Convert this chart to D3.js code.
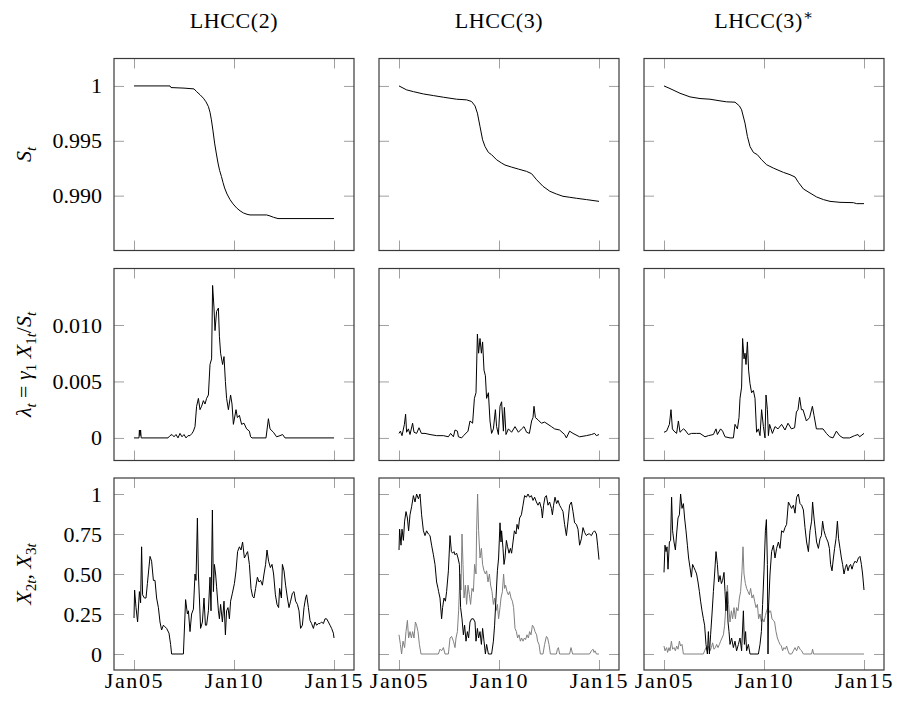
<!DOCTYPE html>
<html>
<head>
<meta charset="utf-8">
<script src="https://cdn.jsdelivr.net/npm/d3@7"></script>
<style>
  body { margin: 0; background: #fff; }
  svg { display: block; }
</style>
</head>
<body>
<div id="chart"></div>
<script>
// column titles and axis ticks
const colTitles = ["LHCC(2)", "LHCC(3)", "LHCC(3)"];
const xTickValues = [2005, 2010, 2015];
const xTickLabels = ["Jan05", "Jan10", "Jan15"];
const sTicks = [1, 0.995, 0.990];
const sTickLabels = ["1", "0.995", "0.990"];
const lamTicks = [0, 0.005, 0.010];
const lamTickLabels = ["0", "0.005", "0.010"];
const xTicksRow3 = [0, 0.25, 0.5, 0.75, 1];
const xTickLabelsRow3 = ["0", "0.25", "0.50", "0.75", "1"];

// survival S_t, [year, value]
const sLhcc2 = [[2005.0,1.0],[2006.8,1.0],[2006.85,0.99985],[2007.5,0.9998],[2008.0,0.99973],[2008.13,0.99948],[2008.3,0.9992],[2008.47,0.99888],[2008.6,0.99855],[2008.72,0.99812],[2008.8,0.9976],[2008.87,0.99691],[2008.95,0.9959],[2009.03,0.99479],[2009.12,0.9938],[2009.2,0.99297],[2009.28,0.9923],[2009.37,0.99176],[2009.45,0.9912],[2009.53,0.9907],[2009.65,0.99015],[2009.8,0.98964],[2009.95,0.98925],[2010.13,0.98888],[2010.3,0.98862],[2010.47,0.98842],[2010.65,0.9883],[2010.8,0.98824],[2011.63,0.98824],[2011.8,0.98815],[2011.97,0.98803],[2012.2,0.98791],[2015.0,0.98791]];
const sLhcc3 = [[2005.0,1.0],[2005.38,0.99964],[2005.72,0.99948],[2006.22,0.99927],[2006.72,0.99912],[2007.22,0.99897],[2007.88,0.99879],[2008.38,0.99873],[2008.63,0.99858],[2008.8,0.99818],[2008.92,0.99752],[2009.05,0.9963],[2009.18,0.99509],[2009.3,0.99448],[2009.47,0.99394],[2009.63,0.99373],[2009.88,0.99327],[2010.13,0.99297],[2010.3,0.99279],[2010.63,0.9926],[2010.97,0.99242],[2011.38,0.99221],[2011.63,0.992],[2011.88,0.99145],[2012.2,0.99085],[2012.54,0.9904],[2012.87,0.99015],[2013.2,0.98994],[2013.54,0.98985],[2013.87,0.98976],[2014.37,0.98964],[2015.0,0.98948]];
const sLhcc3s = [[2005.0,1.0],[2005.3,0.99976],[2005.8,0.99933],[2006.3,0.999],[2006.8,0.99885],[2007.3,0.99879],[2007.8,0.99864],[2008.13,0.99855],[2008.55,0.99852],[2008.77,0.99818],[2008.88,0.99782],[2009.05,0.99661],[2009.17,0.9954],[2009.3,0.99448],[2009.47,0.99394],[2009.67,0.99373],[2009.88,0.99327],[2010.13,0.99282],[2010.47,0.99251],[2010.97,0.99212],[2011.3,0.99191],[2011.55,0.9917],[2011.72,0.99121],[2011.97,0.99061],[2012.3,0.99024],[2012.63,0.98988],[2012.97,0.98964],[2013.3,0.98948],[2013.8,0.98939],[2014.47,0.98936],[2014.63,0.98927],[2015.0,0.98927]];

// default intensity lambda_t
const lamLhcc2 = [[2005.0,0],[2005.25,0],[2005.27,0.0007],[2005.3,0.0002],[2005.33,0.0007],[2005.36,0],[2006.7,0],[2006.8,0.0002],[2006.9,0.0003],[2007.0,0.0001],[2007.1,0.0003],[2007.2,0],[2007.3,0.0004],[2007.4,0.0001],[2007.5,0.0003],[2007.6,0],[2007.7,0.0002],[2007.8,0.0002],[2007.9,0.0004],[2007.97,0.0006],[2008.05,0.001],[2008.13,0.0028],[2008.22,0.0035],[2008.3,0.0025],[2008.38,0.0028],[2008.47,0.0033],[2008.55,0.003],[2008.63,0.0035],[2008.72,0.0038],[2008.8,0.0065],[2008.88,0.007],[2008.93,0.0135],[2009.0,0.0115],[2009.05,0.0095],[2009.13,0.0112],[2009.22,0.0115],[2009.27,0.009],[2009.33,0.0075],[2009.43,0.0065],[2009.5,0.0072],[2009.57,0.005],[2009.63,0.0035],[2009.72,0.0025],[2009.83,0.0038],[2009.9,0.003],[2009.97,0.0012],[2010.1,0.0025],[2010.17,0.0018],[2010.27,0.002],[2010.38,0.0012],[2010.5,0.0013],[2010.63,0.0008],[2010.77,0.0006],[2010.83,0.0001],[2010.9,0],[2011.6,0],[2011.72,0.0017],[2011.8,0.0008],[2011.97,0.0005],[2012.13,0.0001],[2012.3,0.0002],[2012.43,0.0003],[2012.55,0],[2015.0,0]];
const lamLhcc3 = [[2005.0,0.0004],[2005.07,0.0006],[2005.15,0.0002],[2005.27,0.0012],[2005.33,0.0021],[2005.38,0.0005],[2005.47,0.0008],[2005.55,0.0003],[2005.68,0.0013],[2005.75,0.0005],[2005.88,0.0004],[2006.0,0.0009],[2006.12,0.0004],[2006.3,0.0004],[2006.55,0.0003],[2006.88,0.0002],[2007.22,0.0002],[2007.47,0.0001],[2007.58,0.0004],[2007.72,0.0001],[2007.8,0.0007],[2007.92,0.0006],[2007.97,0.0001],[2008.13,0],[2008.23,0.0002],[2008.45,0.0006],[2008.55,0.0015],[2008.68,0.0013],[2008.77,0.0035],[2008.85,0.004],[2008.92,0.0092],[2008.98,0.0075],[2009.05,0.0088],[2009.12,0.0075],[2009.18,0.0085],[2009.25,0.006],[2009.32,0.0055],[2009.38,0.0035],[2009.47,0.004],[2009.55,0.0015],[2009.63,0.0004],[2009.72,0.0008],[2009.82,0.0025],[2009.88,0.001],[2009.97,0.0003],[2010.05,0.0028],[2010.13,0.0032],[2010.22,0.0006],[2010.27,0.0027],[2010.35,0.0003],[2010.47,0.0008],[2010.63,0.0005],[2010.8,0.001],[2010.97,0.0005],[2011.13,0.0008],[2011.25,0.001],[2011.38,0.0005],[2011.52,0.0004],[2011.63,0.0015],[2011.7,0.0018],[2011.75,0.0028],[2011.82,0.0018],[2011.95,0.0016],[2012.12,0.0013],[2012.28,0.0014],[2012.45,0.0012],[2012.62,0.001],[2012.78,0.0008],[2013.03,0.0007],[2013.28,0.0003],[2013.37,0],[2013.53,0.0006],[2013.7,0.0004],[2014.03,0.0001],[2014.37,0.0002],[2014.62,0.0003],[2014.78,0.0004],[2014.87,0.0002],[2015.0,0.0003]];
const lamLhcc3s = [[2005.0,0.0005],[2005.13,0.0006],[2005.27,0.0012],[2005.35,0.0025],[2005.42,0.0008],[2005.5,0.0006],[2005.63,0.0004],[2005.72,0.0015],[2005.8,0.0005],[2005.97,0.0008],[2006.05,0.0007],[2006.22,0.0003],[2006.38,0.0004],[2006.63,0.0004],[2006.8,0.0004],[2007.05,0.0001],[2007.22,0.0002],[2007.47,0.0003],[2007.6,0.0008],[2007.67,0.0003],[2007.83,0.0008],[2007.93,0.0006],[2008.05,0.0001],[2008.3,0],[2008.47,0],[2008.55,0.0012],[2008.67,0.0008],[2008.75,0.0018],[2008.8,0.0035],[2008.88,0.0045],[2008.93,0.0088],[2009.0,0.007],[2009.05,0.0075],[2009.1,0.0065],[2009.17,0.0085],[2009.23,0.006],[2009.3,0.0048],[2009.38,0.004],[2009.47,0.0042],[2009.55,0.0035],[2009.63,0.0005],[2009.72,0.0008],[2009.8,0.0002],[2009.88,0.0025],[2009.97,0.001],[2010.05,0],[2010.1,0.0038],[2010.17,0.0025],[2010.22,0.0002],[2010.28,0.0012],[2010.42,0.0004],[2010.55,0.001],[2010.7,0.0008],[2010.88,0.0012],[2011.05,0.0007],[2011.2,0.0013],[2011.37,0.0008],[2011.53,0.0009],[2011.62,0.0023],[2011.7,0.0025],[2011.78,0.0036],[2011.87,0.0025],[2011.95,0.0025],[2012.12,0.0015],[2012.28,0.0018],[2012.42,0.0028],[2012.5,0.002],[2012.62,0.0008],[2012.78,0.0008],[2012.95,0.0008],[2013.12,0.0004],[2013.28,0.0001],[2013.45,0],[2013.62,0.0006],[2013.78,0.0002],[2013.95,0],[2014.28,0],[2014.53,0.0002],[2014.7,0.0003],[2014.78,0.0001],[2015.0,0.0004]];

// factors X_2t (black) and X_3t (gray)
const x2Lhcc2 = [[2005.0,0.225],[2005.03,0.40],[2005.1,0.29],[2005.18,0.20],[2005.27,0.39],[2005.33,0.32],[2005.38,0.67],[2005.43,0.37],[2005.52,0.35],[2005.6,0.35],[2005.67,0.44],[2005.8,0.61],[2005.88,0.58],[2005.97,0.46],[2006.05,0.46],[2006.13,0.35],[2006.22,0.29],[2006.3,0.20],[2006.38,0.15],[2006.47,0.18],[2006.55,0.17],[2006.63,0.16],[2006.75,0.13],[2006.83,0.06],[2006.88,0],[2007.47,0],[2007.58,0.34],[2007.67,0.25],[2007.72,0.27],[2007.8,0.14],[2007.88,0.25],[2007.97,0.28],[2008.05,0.5],[2008.1,0.46],[2008.17,0.85],[2008.22,0.5],[2008.27,0.35],[2008.33,0.16],[2008.42,0.2],[2008.5,0.35],[2008.57,0.18],[2008.63,0.18],[2008.72,0.27],[2008.8,0.48],[2008.85,0.27],[2008.92,0.9],[2008.97,0.39],[2009.02,0.56],[2009.08,0.5],[2009.13,0.42],[2009.22,0.27],[2009.27,0.22],[2009.33,0.31],[2009.42,0.2],[2009.5,0.33],[2009.57,0.12],[2009.63,0.27],[2009.7,0.29],[2009.77,0.22],[2009.83,0.33],[2009.92,0.38],[2010.02,0.44],[2010.1,0.52],[2010.18,0.64],[2010.27,0.67],[2010.35,0.65],[2010.43,0.70],[2010.52,0.60],[2010.6,0.62],[2010.68,0.64],[2010.77,0.56],[2010.85,0.41],[2010.93,0.36],[2011.0,0.35],[2011.08,0.41],[2011.17,0.48],[2011.25,0.45],[2011.33,0.46],[2011.42,0.43],[2011.5,0.5],[2011.58,0.56],[2011.65,0.65],[2011.73,0.58],[2011.82,0.54],[2011.9,0.56],[2011.98,0.5],[2012.07,0.37],[2012.15,0.31],[2012.23,0.29],[2012.28,0.41],[2012.37,0.35],[2012.42,0.56],[2012.5,0.52],[2012.58,0.43],[2012.67,0.35],[2012.75,0.29],[2012.83,0.33],[2012.92,0.38],[2013.0,0.39],[2013.08,0.33],[2013.17,0.31],[2013.25,0.27],[2013.33,0.16],[2013.42,0.18],[2013.5,0.29],[2013.58,0.35],[2013.63,0.37],[2013.72,0.29],[2013.8,0.21],[2013.88,0.19],[2013.97,0.16],[2014.05,0.2],[2014.13,0.18],[2014.22,0.19],[2014.3,0.19],[2014.38,0.2],[2014.47,0.19],[2014.55,0.22],[2014.63,0.22],[2014.72,0.2],[2014.8,0.18],[2014.88,0.16],[2014.97,0.13],[2015.0,0.10]];
const x2Lhcc3 = [[2005.0,0.65],[2005.03,0.78],[2005.1,0.68],[2005.15,0.78],[2005.22,0.71],[2005.28,0.83],[2005.35,0.89],[2005.42,0.85],[2005.48,0.77],[2005.55,0.87],[2005.63,0.92],[2005.72,0.99],[2005.8,0.95],[2005.88,1.0],[2005.97,0.97],[2006.05,1.0],[2006.13,0.87],[2006.22,0.77],[2006.3,0.74],[2006.38,0.77],[2006.47,0.75],[2006.55,0.74],[2006.63,0.68],[2006.72,0.62],[2006.8,0.56],[2006.88,0.45],[2006.95,0.41],[2006.98,0.39],[2007.05,0.35],[2007.13,0.22],[2007.18,0.29],[2007.25,0.35],[2007.32,0.33],[2007.38,0.39],[2007.47,0.52],[2007.55,0.74],[2007.62,0.64],[2007.68,0.63],[2007.75,0.64],[2007.8,0.62],[2007.88,0.63],[2007.95,0.60],[2008.02,0.56],[2008.08,0.29],[2008.15,0.22],[2008.22,0.12],[2008.28,0.18],[2008.35,0.08],[2008.42,0.14],[2008.48,0.10],[2008.55,0.2],[2008.63,0.22],[2008.72,0.22],[2008.8,0.2],[2008.85,0.08],[2008.92,0.16],[2008.98,0.1],[2009.05,0.14],[2009.12,0.06],[2009.18,0.16],[2009.25,0.08],[2009.32,0],[2009.38,0.06],[2009.47,0],[2009.63,0],[2009.72,0.08],[2009.78,0.18],[2009.85,0.35],[2009.92,0.52],[2009.98,0.6],[2010.05,0.82],[2010.1,0.70],[2010.13,0.77],[2010.2,0.66],[2010.25,0.56],[2010.3,0.6],[2010.37,0.71],[2010.43,0.67],[2010.5,0.63],[2010.57,0.66],[2010.63,0.63],[2010.7,0.70],[2010.77,0.77],[2010.85,0.75],[2010.9,0.81],[2010.97,0.78],[2011.03,0.85],[2011.12,0.87],[2011.2,0.93],[2011.28,0.99],[2011.37,0.98],[2011.45,1.0],[2011.53,0.98],[2011.62,0.99],[2011.7,0.96],[2011.78,0.98],[2011.87,0.95],[2011.95,0.93],[2012.03,0.95],[2012.12,0.91],[2012.17,0.85],[2012.23,0.93],[2012.3,0.98],[2012.37,0.99],[2012.45,0.93],[2012.53,0.95],[2012.62,0.91],[2012.67,0.87],[2012.73,0.93],[2012.8,0.98],[2012.88,0.94],[2012.95,0.96],[2013.03,0.93],[2013.12,0.91],[2013.2,0.89],[2013.28,0.81],[2013.37,0.74],[2013.45,0.83],[2013.53,0.93],[2013.62,0.95],[2013.7,0.89],[2013.78,0.82],[2013.87,0.81],[2013.95,0.78],[2014.03,0.68],[2014.12,0.72],[2014.2,0.79],[2014.28,0.76],[2014.37,0.74],[2014.45,0.75],[2014.53,0.75],[2014.62,0.74],[2014.7,0.76],[2014.78,0.77],[2014.87,0.75],[2014.93,0.68],[2015.0,0.59]];
const x3Lhcc3 = [[2005.0,0.12],[2005.07,0.06],[2005.13,0],[2005.2,0.08],[2005.28,0.04],[2005.35,0.14],[2005.42,0.21],[2005.48,0.1],[2005.55,0.14],[2005.62,0.1],[2005.68,0.14],[2005.75,0.1],[2005.82,0.2],[2005.88,0.18],[2005.95,0.14],[2006.02,0.06],[2006.1,0],[2006.97,0],[2007.05,0.03],[2007.13,0.02],[2007.22,0.04],[2007.3,0],[2007.47,0],[2007.55,0.1],[2007.63,0.11],[2007.72,0.08],[2007.8,0.04],[2007.85,0.1],[2007.92,0.14],[2007.98,0.27],[2008.05,0.5],[2008.1,0.4],[2008.15,0.75],[2008.2,0.56],[2008.25,0.35],[2008.32,0.43],[2008.38,0.31],[2008.45,0.43],[2008.52,0.37],[2008.58,0.31],[2008.65,0.41],[2008.72,0.39],[2008.78,0.56],[2008.85,0.5],[2008.88,0.77],[2008.93,1.0],[2008.98,0.77],[2009.05,0.6],[2009.12,0.66],[2009.18,0.56],[2009.25,0.52],[2009.32,0.5],[2009.38,0.52],[2009.45,0.45],[2009.52,0.5],[2009.58,0.43],[2009.65,0.39],[2009.72,0.31],[2009.78,0.35],[2009.85,0.27],[2009.92,0.31],[2009.98,0.22],[2010.05,0.29],[2010.1,0.35],[2010.17,0.39],[2010.23,0.5],[2010.28,0.41],[2010.33,0.43],[2010.4,0.39],[2010.47,0.37],[2010.53,0.39],[2010.6,0.35],[2010.67,0.33],[2010.73,0.29],[2010.8,0.16],[2010.87,0.14],[2010.93,0.1],[2011.0,0.12],[2011.07,0.08],[2011.13,0.1],[2011.2,0.08],[2011.27,0.1],[2011.33,0.09],[2011.4,0.12],[2011.47,0.1],[2011.53,0.14],[2011.6,0.12],[2011.67,0.18],[2011.73,0.17],[2011.8,0.14],[2011.88,0.12],[2011.93,0.08],[2012.0,0.06],[2012.07,0],[2012.2,0],[2012.28,0.06],[2012.37,0.11],[2012.43,0.1],[2012.5,0.06],[2012.57,0],[2012.87,0],[2012.92,0.03],[2012.97,0.04],[2013.03,0],[2013.53,0],[2013.6,0.04],[2013.68,0],[2014.53,0],[2014.62,0.02],[2014.7,0.03],[2014.75,0.01],[2014.8,0.02],[2014.87,0],[2015.0,0]];
const x2Lhcc3s = [[2005.0,0.51],[2005.05,0.68],[2005.1,0.64],[2005.15,0.67],[2005.2,0.53],[2005.27,0.70],[2005.33,0.71],[2005.38,0.98],[2005.43,0.77],[2005.5,0.70],[2005.57,0.65],[2005.63,0.75],[2005.7,0.85],[2005.77,0.87],[2005.83,1.0],[2005.9,0.91],[2005.97,0.94],[2006.03,0.85],[2006.1,0.77],[2006.17,0.68],[2006.23,0.6],[2006.3,0.54],[2006.37,0.48],[2006.43,0.56],[2006.5,0.54],[2006.57,0.52],[2006.63,0.5],[2006.7,0.45],[2006.77,0.39],[2006.83,0.33],[2006.9,0.27],[2006.97,0.22],[2007.03,0.18],[2007.1,0.06],[2007.17,0],[2007.22,0.14],[2007.27,0],[2007.33,0.12],[2007.4,0.25],[2007.47,0.39],[2007.53,0.5],[2007.6,0.64],[2007.67,0.56],[2007.73,0.45],[2007.8,0.49],[2007.87,0.44],[2007.93,0.46],[2008.0,0.51],[2008.05,0.39],[2008.1,0.27],[2008.15,0.39],[2008.2,0.2],[2008.25,0.14],[2008.3,0.06],[2008.38,0.1],[2008.47,0.04],[2008.55,0.08],[2008.63,0.02],[2008.72,0.06],[2008.8,0.1],[2008.88,0.02],[2008.97,0.27],[2009.02,0.06],[2009.08,0.14],[2009.13,0.02],[2009.22,0.06],[2009.3,0],[2009.72,0],[2009.8,0.06],[2009.87,0.14],[2009.93,0.31],[2010.0,0.52],[2010.07,0.77],[2010.12,0.84],[2010.17,0.56],[2010.2,0],[2010.23,0.3],[2010.3,0.5],[2010.38,0.64],[2010.47,0.68],[2010.55,0.6],[2010.63,0.66],[2010.72,0.70],[2010.8,0.66],[2010.88,0.77],[2010.97,0.76],[2011.05,0.79],[2011.13,0.81],[2011.22,0.95],[2011.3,0.93],[2011.38,0.91],[2011.47,0.93],[2011.55,0.88],[2011.63,0.98],[2011.72,1.0],[2011.8,0.94],[2011.88,0.93],[2011.97,0.9],[2012.05,0.79],[2012.13,0.70],[2012.22,0.64],[2012.3,0.77],[2012.38,0.83],[2012.43,0.95],[2012.5,0.85],[2012.57,0.77],[2012.63,0.70],[2012.72,0.66],[2012.8,0.72],[2012.87,0.74],[2012.93,0.83],[2013.0,0.77],[2013.07,0.74],[2013.13,0.72],[2013.2,0.70],[2013.27,0.66],[2013.33,0.56],[2013.4,0.52],[2013.47,0.6],[2013.53,0.66],[2013.6,0.72],[2013.67,0.83],[2013.73,0.72],[2013.8,0.66],[2013.87,0.6],[2013.93,0.56],[2014.0,0.5],[2014.07,0.54],[2014.13,0.56],[2014.2,0.52],[2014.27,0.55],[2014.33,0.56],[2014.4,0.53],[2014.47,0.56],[2014.55,0.58],[2014.63,0.57],[2014.72,0.6],[2014.8,0.61],[2014.87,0.56],[2014.93,0.5],[2015.0,0.40]];
const x3Lhcc3s = [[2005.0,0.05],[2005.05,0.02],[2005.13,0.04],[2005.18,0.01],[2005.25,0.04],[2005.3,0.02],[2005.37,0.08],[2005.43,0.03],[2005.5,0.04],[2005.57,0.02],[2005.63,0.05],[2005.7,0.03],[2005.77,0.08],[2005.83,0.05],[2005.9,0.06],[2005.97,0],[2006.97,0],[2007.03,0.02],[2007.1,0.04],[2007.17,0.02],[2007.23,0.05],[2007.3,0.02],[2007.37,0.04],[2007.43,0.07],[2007.5,0.03],[2007.57,0.04],[2007.63,0.06],[2007.7,0.04],[2007.77,0.06],[2007.83,0.08],[2007.9,0.1],[2007.97,0.12],[2008.03,0.18],[2008.1,0.31],[2008.17,0.43],[2008.23,0.31],[2008.3,0.2],[2008.37,0.27],[2008.43,0.22],[2008.5,0.29],[2008.57,0.22],[2008.63,0.29],[2008.7,0.27],[2008.77,0.35],[2008.83,0.39],[2008.9,0.52],[2008.95,0.67],[2009.0,0.5],[2009.07,0.44],[2009.13,0.41],[2009.2,0.39],[2009.27,0.37],[2009.33,0.41],[2009.4,0.35],[2009.47,0.37],[2009.53,0.33],[2009.6,0.29],[2009.67,0.31],[2009.73,0.22],[2009.8,0.25],[2009.87,0.2],[2009.93,0.22],[2010.0,0.2],[2010.07,0.24],[2010.13,0.27],[2010.2,0.29],[2010.27,0.26],[2010.33,0.27],[2010.4,0.22],[2010.47,0.21],[2010.53,0.2],[2010.6,0.14],[2010.67,0.1],[2010.73,0.08],[2010.8,0.06],[2010.87,0.05],[2010.93,0.02],[2011.0,0.04],[2011.07,0.03],[2011.13,0.05],[2011.2,0.02],[2011.27,0],[2011.38,0],[2011.47,0.02],[2011.55,0.04],[2011.63,0.02],[2011.72,0.05],[2011.8,0.03],[2011.88,0.02],[2011.97,0],[2012.38,0],[2012.43,0.03],[2012.48,0],[2015.0,0]];

// panel grid: [row][col] -> list of {data, color}
const panels = [
  [[{ data: sLhcc2, color: "#000" }], [{ data: sLhcc3, color: "#000" }], [{ data: sLhcc3s, color: "#000" }]],
  [[{ data: lamLhcc2, color: "#000" }], [{ data: lamLhcc3, color: "#000" }], [{ data: lamLhcc3s, color: "#000" }]],
  [[{ data: x2Lhcc2, color: "#000" }],
   [{ data: x3Lhcc3, color: "#808080" }, { data: x2Lhcc3, color: "#000" }],
   [{ data: x3Lhcc3s, color: "#808080" }, { data: x2Lhcc3s, color: "#000" }]]
];

const rowAxes = [
  { domain: [0.985, 1.0025], ticks: sTicks, labels: sTickLabels },
  { domain: [-0.002, 0.015], ticks: lamTicks, labels: lamTickLabels },
  { domain: [-0.1, 1.1], ticks: xTicksRow3, labels: xTickLabelsRow3 }
];

// math labels for each row: parts of text, italic / subscript
const rowLabels = [
  [{ t: "S", it: 1 }, { t: "t", it: 1, sub: 1 }],
  [{ t: "λ", it: 1 }, { t: "t", it: 1, sub: 1 }, { t: " = " }, { t: "γ", it: 1 }, { t: "1", sub: 1 },
   { t: " " }, { t: "X", it: 1 }, { t: "1", sub: 1 }, { t: "t", it: 1, sub: 1 }, { t: "/" },
   { t: "S", it: 1 }, { t: "t", it: 1, sub: 1 }],
  [{ t: "X", it: 1 }, { t: "2", sub: 1 }, { t: "t", it: 1, sub: 1 }, { t: ", " },
   { t: "X", it: 1 }, { t: "3", sub: 1 }, { t: "t", it: 1, sub: 1 }]
];

const width = 898, height = 702;
const font = "'Liberation Serif', 'DejaVu Serif', serif";
const fontSize = 22;
const colLeft = [114, 379, 644];
const rowTop = [58.5, 268.5, 478];
const boxW = 240, boxH = 192;
const tickLen = 10;

const svg = d3.select("#chart").append("svg")
  .attr("width", width)
  .attr("height", height);

const x = d3.scaleLinear().domain([2004, 2016]).range([0, boxW]);

colTitles.forEach((title, c) => {
  const t = svg.append("text")
    .attr("x", colLeft[c] + boxW / 2)
    .attr("y", 28)
    .attr("text-anchor", "middle")
    .attr("font-family", font)
    .attr("font-size", fontSize)
    .attr("letter-spacing", 0.6)
    .text(title);
  if (c === 2) {
    t.append("tspan").attr("dy", -8).attr("font-size", 15).text("∗");
  }
});

rowLabels.forEach((parts, r) => {
  const t = svg.append("text")
    .attr("transform", `translate(31,${rowTop[r] + boxH / 2}) rotate(-90)`)
    .attr("text-anchor", "middle")
    .attr("font-family", font)
    .attr("font-size", fontSize);
  let inSub = false;
  parts.forEach(p => {
    const ts = t.append("tspan").text(p.t);
    if (p.it) ts.attr("font-style", "italic");
    if (p.sub && !inSub) ts.attr("dy", 5);
    if (!p.sub && inSub) ts.attr("dy", -5);
    if (p.sub) ts.attr("font-size", 15);
    inSub = !!p.sub;
  });
});

panels.forEach((row, r) => {
  const ax = rowAxes[r];
  const y = d3.scaleLinear().domain(ax.domain).range([boxH, 0]);
  const line = d3.line().x(d => x(d[0])).y(d => y(d[1]));

  row.forEach((series, c) => {
    const g = svg.append("g")
      .attr("transform", `translate(${colLeft[c]},${rowTop[r]})`);

    const left = g.append("g").call(d3.axisLeft(y)
      .tickValues(ax.ticks)
      .tickFormat((d, i) => c === 0 ? ax.labels[i] : "")
      .tickSize(-tickLen).tickPadding(12));
    const right = g.append("g").attr("transform", `translate(${boxW},0)`)
      .call(d3.axisRight(y).tickValues(ax.ticks).tickFormat("").tickSize(-tickLen));
    const top = g.append("g")
      .call(d3.axisTop(x).tickValues(xTickValues).tickFormat("").tickSize(-tickLen));
    const bottom = g.append("g").attr("transform", `translate(0,${boxH})`)
      .call(d3.axisBottom(x)
        .tickValues(xTickValues)
        .tickFormat((d, i) => r === 2 ? xTickLabels[i] : "")
        .tickSize(-tickLen).tickPadding(2));

    [left, right, top, bottom].forEach(a => {
      a.select(".domain").remove();
      a.selectAll(".tick line").attr("stroke", "#a0a0a0").attr("stroke-width", 1);
      a.selectAll("text")
        .attr("font-family", font)
        .attr("font-size", fontSize)
        .attr("fill", "#000");
    });
    bottom.selectAll("text").attr("letter-spacing", 1.6);

    series.forEach(s => {
      g.append("path")
        .datum(s.data)
        .attr("fill", "none")
        .attr("stroke", s.color)
        .attr("stroke-width", 1)
        .attr("stroke-linejoin", "round")
        .attr("d", line);
    });

    g.append("rect")
      .attr("x", 0).attr("y", 0)
      .attr("width", boxW).attr("height", boxH)
      .attr("fill", "none")
      .attr("stroke", "#3a3a3a")
      .attr("stroke-width", 1.2);
  });
});
</script>
</body>
</html>
